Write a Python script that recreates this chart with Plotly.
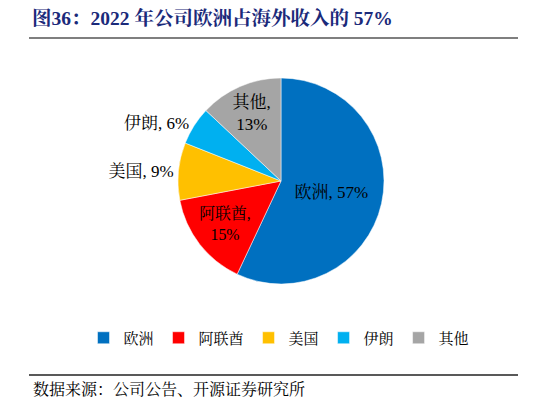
import plotly.graph_objects as go

# revenue share by region, 2022
regions = ["欧洲", "阿联酋", "美国", "伊朗", "其他"]
shares = [57, 15, 9, 6, 13]
colors = ["#0070C0", "#FF0000", "#FFC000", "#00B0F0", "#A5A5A5"]
label_text = ["欧洲, 57%", "阿联酋,<br>15%", "美国, 9%", "伊朗, 6%", "其他,<br>13%"]
text_pos = ["inside", "inside", "outside", "outside", "inside"]

title = "图36：2022 年公司欧洲占海外收入的 57%"
source = "数据来源：公司公告、开源证券研究所"

serif = "Liberation Serif, Noto Serif CJK SC, Noto Sans CJK SC, serif"
W, H = 546, 405
OFF = 8  # page body margin shifts the plot by this much


def px(x):
    return (x - OFF) / W


def py(y):
    return 1 - (y - OFF) / H


pie = go.Pie(
    labels=regions,
    values=shares,
    text=label_text,
    textinfo="text",
    textposition=text_pos,
    insidetextorientation="horizontal",
    sort=False,
    direction="clockwise",
    rotation=0,
    marker=dict(colors=colors, line=dict(color="white", width=0.5)),
    textfont=dict(family=serif, size=17, color="black"),
    insidetextfont=dict(family=serif, size=17, color="black"),
    outsidetextfont=dict(family=serif, size=17, color="black"),
    domain=dict(x=[px(281 - 103), px(281 + 103)],
                y=[py(284), py(78)]),
    hoverinfo="label+percent",
)

fig = go.Figure(pie)

fig.update_layout(
    width=W, height=H,
    margin=dict(l=0, r=0, t=0, b=0),
    paper_bgcolor="white",
    font=dict(family=serif, size=14, color="black"),
    showlegend=True,
    legend=dict(orientation="h", x=px(279), xanchor="center",
                y=py(338), yanchor="middle",
                font=dict(family=serif, size=15, color="black"),
                itemwidth=30, tracegroupgap=0),
    shapes=[
        dict(type="line", xref="paper", yref="paper",
             x0=px(29), x1=px(518), y0=py(38), y1=py(38),
             line=dict(color="#7F7F7F", width=2)),
        dict(type="line", xref="paper", yref="paper",
             x0=px(29), x1=px(518), y0=py(375), y1=py(375),
             line=dict(color="#222222", width=1.5)),
    ],
    annotations=[
        dict(text="<b>" + title + "</b>", xref="paper", yref="paper",
             x=px(30), y=py(18), xanchor="left", yanchor="middle",
             showarrow=False,
             font=dict(family=serif, size=19.5, color="#1B2A7A")),
        dict(text=source, xref="paper", yref="paper",
             x=px(31), y=py(389), xanchor="left", yanchor="middle",
             showarrow=False,
             font=dict(family=serif, size=16, color="black")),
    ],
)

fig.write_html("out.html")
